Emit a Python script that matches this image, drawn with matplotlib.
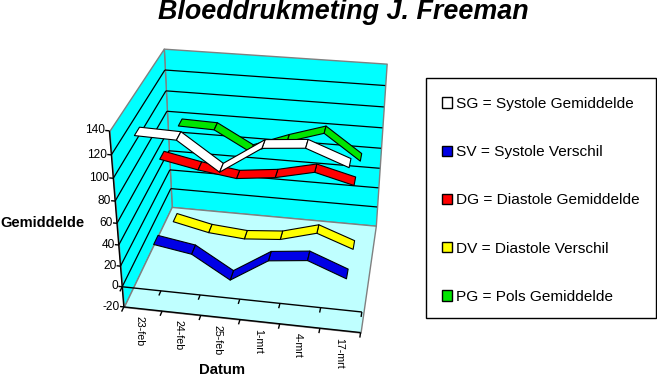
import numpy as np
import matplotlib
matplotlib.use('Agg')
import matplotlib.pyplot as plt
from matplotlib.patches import Patch
from mpl_toolkits.mplot3d.art3d import Poly3DCollection, Line3DCollection

W, H = 657, 376

dates = ['23-feb', '24-feb', '25-feb', '1-mrt', '4-mrt', '17-mrt']
sg = [133, 132, 108, 131, 134, 121]
sv = [16, 10, -12, 11, 15, 1]
dg = [79, 72, 67, 71, 79, 70]
dv = [-1, -9, -12, -9, 1, -12]
pg = [78, 77, 58, 71, 82, 58]

names = ['SG = Systole Gemiddelde', 'SV = Systole Verschil', 'DG = Diastole Gemiddelde',
         'DV = Diastole Verschil', 'PG = Pols Gemiddelde']
colors = ['#ffffff', '#0000e6', '#ff0000', '#ffff00', '#00e600']
series = [sg, sv, dg, dv, pg]
z_ticks = list(range(-20, 141, 20))

plt.rcParams['font.family'] = ['Liberation Sans', 'DejaVu Sans']

n_x = len(dates)
n_y = len(series)
z_lo, z_hi = z_ticks[0], z_ticks[-1]

# box corners and where they sit on the picture, used to fit the camera
world = [(0, 0, z_lo), (n_x, 0, z_lo), (0, n_y, z_lo), (n_x, n_y, z_lo),
         (0, n_y, z_hi), (n_x, n_y, z_hi), (0, 0, z_hi), (0, 0, 0)]
screen = [(124, 307), (360, 333), (172, 207), (376, 225),
          (163, 49), (387, 64), (110, 130), (122, 287)]

rows = []
for (x, y, z), (u, v) in zip(world, screen):
    rows.append([x, y, z, 1, 0, 0, 0, 0, -u*x, -u*y, -u*z, -u])
    rows.append([0, 0, 0, 0, x, y, z, 1, -v*x, -v*y, -v*z, -v])
cam = np.linalg.svd(np.array(rows, dtype=float))[2][-1].reshape(3, 4)
cam = cam / cam[2, 3]

fig = plt.figure(figsize=(W/100, H/100), dpi=100)
ax = fig.add_axes([0, 0, 1, 1], projection='3d')
ax.set_axis_off()
ax.computed_zorder = False
ax.apply_aspect = lambda *args, **kwargs: None


def fitted_proj():
    x0, x1 = ax.viewLim.intervalx
    y0, y1 = ax.viewLim.intervaly
    to_view = np.array([[(x1-x0)/W, 0, x0], [0, -(y1-y0)/H, y1], [0, 0, 1]])
    p = to_view @ cam
    depth = [-0.01, 1, 0, 0.5]
    return np.array([p[0], p[1], depth, p[2]])


ax.get_proj = fitted_proj


def to_px(x, y, z):
    u, v, w = cam @ np.array([x, y, z, 1.0])
    return u/w, v/w


def poly(verts, face, edge, lw=1.0, z=1):
    c = Poly3DCollection(verts, facecolors=face, edgecolors=edge, linewidths=lw, zorder=z)
    ax.add_collection3d(c)


def segs(lines, lw=0.9, z=4):
    ax.add_collection3d(Line3DCollection(lines, colors='k', linewidths=lw, zorder=z))


def label(u, v, s, **kw):
    fig.text(u/W, 1 - v/H, s, **kw)


# walls and floor
poly([[(0, n_y, z_lo), (n_x, n_y, z_lo), (n_x, n_y, z_hi), (0, n_y, z_hi)]], '#00ffff', '#808080')
poly([[(0, 0, z_lo), (0, n_y, z_lo), (0, n_y, z_hi), (0, 0, z_hi)]], '#00ffff', '#808080')
poly([[(0, 0, z_lo), (n_x, 0, z_lo), (n_x, n_y, z_lo), (0, n_y, z_lo)]], '#bfffff', '#808080', z=2)

inner = z_ticks[1:-1]
segs([[(0, n_y, v), (n_x, n_y, v)] for v in inner], z=3)
segs([[(0, 0, v), (0, n_y, v)] for v in inner], z=3)

# axes lines and ticks
segs([[(0, 0, z_lo), (0, 0, z_hi)], [(0, 0, z_lo), (n_x, 0, z_lo)], [(0, 0, 0), (n_x, 0, 0)]], lw=1)
segs([[(-0.1, 0, v), (0, 0, v)] for v in z_ticks], lw=1)
segs([[(i, 0, v), (i, -0.2, v)] for i in range(n_x + 1) for v in (z_lo, 0)], lw=1)

for v in z_ticks:
    u, w = to_px(-0.1, 0, v)
    label(u, w, str(v), ha='right', va='center', fontsize=8.6)
for i, d in enumerate(dates):
    u, w = to_px(i + 0.5, -0.3, z_lo)
    label(u, w, d, rotation=270, ha='center', va='top', fontsize=7.7)

# ribbons, back one first
half = 0.22
for j in range(n_y - 1, -1, -1):
    vals = series[j]
    y_mid = j + 0.5
    quads = []
    for i in range(n_x - 1):
        quads.append([(i + 0.5, y_mid - half, vals[i]), (i + 1.5, y_mid - half, vals[i + 1]),
                      (i + 1.5, y_mid + half, vals[i + 1]), (i + 0.5, y_mid + half, vals[i])])
    poly(quads, colors[j], 'k', lw=0.8, z=10 + n_y - j)

label(343, 19, 'Bloeddrukmeting J. Freeman', ha='center', va='baseline',
      fontsize=19.4, fontweight='bold', fontstyle='italic')
label(0, 223, 'Gemiddelde', ha='left', va='center', fontsize=10.5, fontweight='bold')
label(222, 370, 'Datum', ha='center', va='center', fontsize=10.7, fontweight='bold')

# legend box is drawn on its own so the rows can sit where they should
fig.add_artist(plt.Rectangle((426/W, 1 - 318/H), 230/W, 240/H, transform=fig.transFigure,
                             facecolor='white', edgecolor='k', lw=1))
handles = [Patch(facecolor=c, edgecolor='k', label=n) for c, n in zip(colors, names)]
fig.legend(handles=handles, loc='upper left', bbox_to_anchor=(442/W, 1 - 97/H), borderaxespad=0,
           fontsize=11.1, frameon=False, labelspacing=2.22, borderpad=0,
           handlelength=0.65, handleheight=0.65, handletextpad=0.25)

fig.savefig('out.png', dpi=100)
